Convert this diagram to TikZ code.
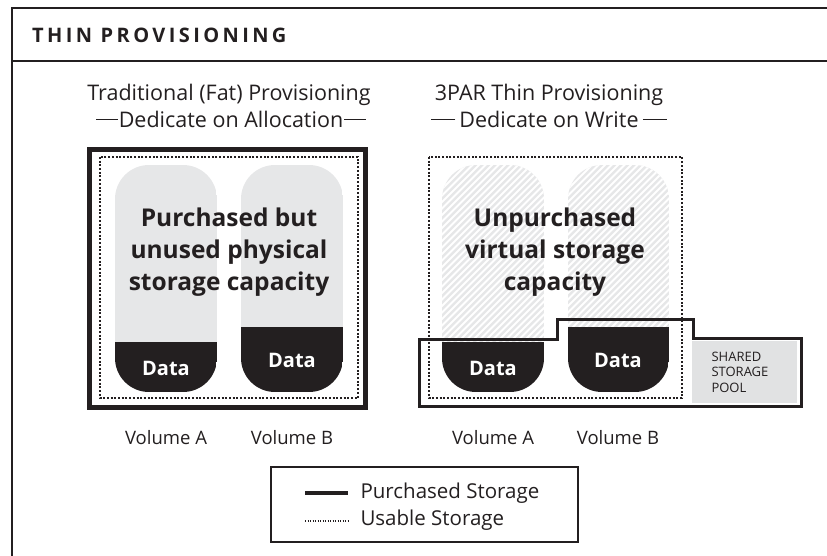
\documentclass[tikz,border=0pt]{standalone}
\usepackage{fontspec}
\setmainfont{Open Sans}
\usetikzlibrary{calc}
\definecolor{dk}{HTML}{231F20}
\definecolor{capgray}{HTML}{E6E7E8}
\definecolor{poolgray}{HTML}{E1E2E3}
\newcommand\fatvol[3]{%
  \begin{scope}
    \clip[rounded corners=34] (#1,165) rectangle (#2,392);
    \fill[capgray] (#1,165) rectangle (#2,#3);
    \fill[dk] (#1,#3) rectangle (#2,392);
  \end{scope}}
\newcommand\thinvol[3]{%
  \begin{scope}
    \clip[rounded corners=34] (#1,165) rectangle (#2,392);
    \fill[capgray] (#1,165) rectangle (#2,#3);
    \begin{scope}
      \clip (#1,165) rectangle (#2,#3);
      \foreach \k in {0,6.5,...,420} {\draw[white, line width=1.8] (#1+\k,150) -- ++(-260,260);}
    \end{scope}
    \fill[dk] (#1,#3) rectangle (#2,392);
  \end{scope}}
\tikzset{
  frameline/.style={draw=dk, line width=2},
  heading/.style={anchor=base, text=dk, font=\fontsize{21.5}{24}\selectfont, inner sep=1pt},
  bigtext/.style={align=center, text=dk, font=\bfseries\fontsize{24.5}{32}\selectfont},
  datatext/.style={text=white, font=\bfseries\fontsize{20}{22}\selectfont},
  vollabel/.style={anchor=base, text=dk, font=\fontsize{18.5}{22}\selectfont},
  fatbox/.style={draw=dk, line width=5},
  usable/.style={draw=dk, line width=2, dash pattern=on 2pt off 1.7pt},
  poolline/.style={draw=dk, line width=3},
  legtext/.style={anchor=west, text=dk, font=\fontsize{20.5}{22}\selectfont},
}
\begin{document}
\begin{tikzpicture}[x=1pt, y=-1pt]
\useasboundingbox (0,0) rectangle (827,556);
% frame
\draw[frameline] (827,8.5) -- (12,8.5) -- (12,556);
\draw[frameline] (12,61) -- (827,61);
\node[anchor=base west, text=dk, inner sep=0, font=\bfseries\fontsize{20}{22}\selectfont\addfontfeatures{LetterSpace=17}] (title) at (32,43) {THIN PROVISIONING};

% headings
\node[heading] (lh1) at (229,101) {Traditional (Fat) Provisioning};
\node[heading] (lh2) at (231,128) {Dedicate on Allocation};
\draw[dk, line width=1] (lh2.west) -- ++(-22,0);
\draw[dk, line width=1] (lh2.east) -- ++(22,0);
\node[heading] (rh1) at (549,101) {3PAR Thin Provisioning};
\node[heading, inner sep=4pt] (rh2) at (549,128) {Dedicate on Write};
\draw[dk, line width=1] (rh2.west) -- ++(-24,0);
\draw[dk, line width=1] (rh2.east) -- ++(24,0);

% left panel
\fatvol{115}{217}{342}
\fatvol{241}{343}{327}
\draw[fatbox] (89.5,149.5) rectangle (365.5,407.5);
\draw[usable] (100,157) rectangle (358,398);
\node[bigtext] (lt) at (229,252) {Purchased but\\unused physical\\storage capacity};
\node[datatext] (lda) at (166,368) {Data};
\node[datatext] (ldb) at (292,360) {Data};

% right panel
\thinvol{442}{544}{342}
\thinvol{568}{669}{327}
\fill[poolgray] (692,341) rectangle (797,403);
\draw[poolline] (419,339) -- (557,339) -- (557,319) -- (693,319) -- (693,338) -- (801,338) -- (801,406) -- (419,406) -- cycle;
\draw[usable] (429,157) rectangle (682,398);
\node[bigtext] (rt) at (555,252) {Unpurchased\\virtual storage\\capacity};
\node[datatext] (rda) at (493,368) {Data};
\node[datatext] (rdb) at (618,360) {Data};
\node[anchor=west, align=left, text=dk, font=\fontsize{13}{15.5}\selectfont] (pool) at (708,372) {SHARED\\STORAGE\\POOL};

% volume labels
\node[vollabel] (va1) at (166,444) {Volume A};
\node[vollabel] (vb1) at (292,444) {Volume B};
\node[vollabel] (va2) at (493,444) {Volume A};
\node[vollabel] (vb2) at (618,444) {Volume B};

% legend
\draw[dk, line width=1.5] (271,467) rectangle (578,542);
\coordinate (ls1) at (305,493);
\coordinate (ls2) at (348,493);
\coordinate (lu1) at (305,521);
\coordinate (lu2) at (348,521);
\draw[dk, line width=4] (ls1) -- (ls2);
\draw[dk, line width=1.3, dash pattern=on 1.3pt off 1.2pt] (lu1) -- (lu2);
\node[legtext] (lp) at (357,493) {Purchased Storage};
\node[legtext] (lu) at (357,520) {Usable Storage};
\end{tikzpicture}
\end{document}
